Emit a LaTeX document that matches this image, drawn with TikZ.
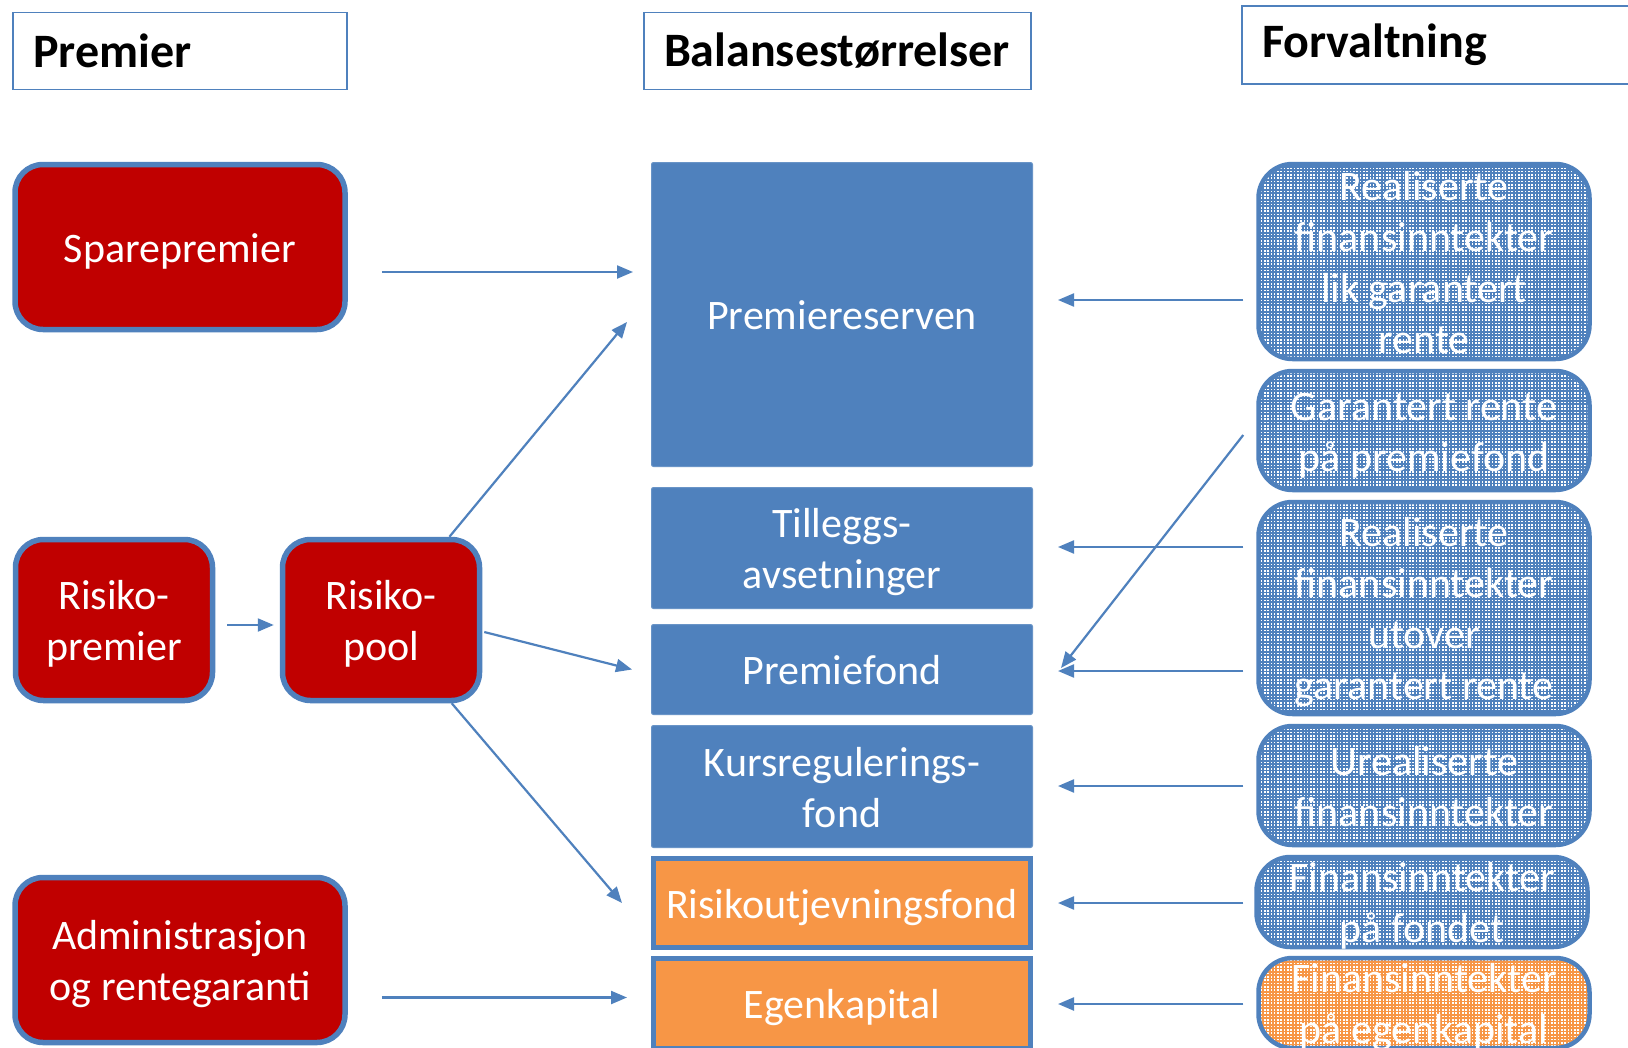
\documentclass[tikz,border=0pt]{standalone}
\usepackage{fontspec}
\setmainfont{Carlito}
\usetikzlibrary{arrows.meta,calc,patterns}
\definecolor{darkred}{HTML}{C00000}
\definecolor{boxblue}{HTML}{4F81BD}
\definecolor{fondorange}{HTML}{F79646}
\pgfdeclarepatternformonly{finedots}{\pgfpoint{-1pt}{-1pt}}{\pgfpoint{3pt}{3pt}}{\pgfpoint{3.3pt}{3.3pt}}%
  {\pgfpathrectangle{\pgfpointorigin}{\pgfpoint{1.6pt}{1.6pt}}\pgfusepath{fill}}
\newcommand\boxfont{\fontsize{42}{51}\selectfont}
\newcommand\titlefont{\fontsize{48}{56}\selectfont\bfseries}
\tikzset{head/.style={draw=boxblue,line width=1.5pt,inner xsep=20pt,inner ysep=0pt,
  minimum height=77pt,align=flush left,font=\titlefont},
  struts/.style={execute at begin node={\rule{0pt}{41pt}},
  execute at end node={\rule[-10.5pt]{0pt}{0pt}}},
  redbox/.style={draw=boxblue,fill=darkred,line width=5.5pt,rounded corners=28pt,
  minimum width=#1,text width=#1,inner sep=0pt,text=white,align=flush center,
  font=\boxfont,struts},
  balbox/.style={draw=boxblue!85!white,fill=boxblue,line width=1pt,rounded corners=2pt,
  minimum width=381pt,text width=381pt,inner sep=0pt,text=white,align=flush center,
  font=\boxfont,struts},
  orbox/.style={draw=boxblue,fill=fondorange,line width=5pt,minimum width=377pt,
  text width=377pt,inner sep=0pt,text=white,align=flush center,font=\boxfont,struts},
  forv/.style={draw=boxblue,line width=4.5pt,rounded corners=34pt,pattern=finedots,
  pattern color=white,text=white,inner xsep=0pt,inner ysep=-14pt,minimum width=331pt,
  text width=331pt,align=flush center,font=\boxfont,struts},
  forvblue/.style={forv,preaction={fill=boxblue}},
  forvorange/.style={forv,preaction={fill=fondorange}},
  arr/.style={-{Triangle[length=16pt,width=13pt]},line width=2.2pt,draw=boxblue},
  back/.style={arr,shorten <=13pt,shorten >=25pt}}
\begin{document}
\begin{tikzpicture}[x=1pt,y=-1pt]
\path[use as bounding box,fill=white] (0,0) rectangle (1628,1047);
\node[head,text width=294pt] (hprem) at (180,51) {Premier};
\node[head,text width=347pt] (hbal) at (837.5,51) {Balansestørrelser};
\node[head,text width=358pt,minimum height=78pt] (hforv) at (1441,45) {Forvaltning};
\node[redbox=330pt,minimum height=165pt] (spare) at (180,247) {Sparepremier};
\node[redbox=197pt,minimum height=161pt] (rprem) at (114,620) {Risiko-\\premier};
\node[redbox=197pt,minimum height=161pt] (rpool) at (381,620) {Risiko-\\pool};
\node[redbox=330pt,minimum height=165pt] (admin) at (180,960) {Administrasjon\\og rentegaranti};
\node[balbox,minimum height=304pt] (pres) at (842,314.5) {Premiereserven};
\node[balbox,minimum height=121pt] (till) at (842,548) {Tilleggs-\\avsetninger};
\node[balbox,minimum height=90pt] (pfond) at (842,669.5) {Premiefond};
\node[balbox,minimum height=122pt] (kurs) at (842,786.5) {Kursregulerings-\\fond};
\node[orbox,minimum height=89pt] (rfond) at (842,903) {Risikoutjevningsfond};
\node[orbox,minimum height=90pt] (egen) at (842,1003.5) {Egenkapital};
\node[forvblue,minimum height=195pt] (rlik) at (1424,261.5) {Realiserte\\finansinntekter\\lik garantert\\rente};
\node[forvblue,minimum height=119pt] (grente) at (1424,430.5) {Garantert rente\\på premiefond};
\node[forvblue,minimum height=212pt] (rutov) at (1424,608) {Realiserte\\finansinntekter\\utover\\garantert rente};
\node[forvblue,minimum height=119pt] (ureal) at (1424,785.5) {Urealiserte\\finansinntekter};
\node[forvblue,minimum height=90pt] (ffond) at (1422,902) {Finansinntekter\\på fondet};
\node[forvorange,minimum height=90pt] (fegen) at (1424,1003) {Finansinntekter\\på egenkapital};
\draw[arr,shorten <=34pt,shorten >=18pt] (spare.east |- 0,272) -- (pres.west |- 0,272);
\draw[arr,shorten <=12pt,shorten >=6pt] (rprem.east |- 0,625) -- (rpool.west |- 0,625);
\draw[arr] (rpool) -- ($(pres.west |- 0,322)+(-24,0)$);
\draw[arr] ($(rpool.east)+(2,12)$) -- ($(pfond.west)+(-19,0)$);
\draw[arr] (rpool) -- ($(rfond.west)+(-29,0)$);
\draw[arr,shorten <=34pt,shorten >=24pt] (admin.east |- 0,997.5) -- (egen.west |- 0,997.5);
\draw[back] (rlik.west |- 0,300) -- (pres.east |- 0,300);
\draw[back] (rutov.west |- 0,547) -- (till.east |- 0,547);
\draw[back] (rutov.west |- 0,671) -- (pfond.east |- 0,671);
\draw[arr] ($(grente.west)+(-13,4.5)$) -- ($(pfond.east)+(28,-1.5)$);
\draw[back] (ureal.west |- 0,786) -- (kurs.east |- 0,786);
\draw[back,shorten <=11pt] (ffond.west |- 0,903) -- (rfond.east |- 0,903);
\draw[back] (fegen.west |- 0,1004) -- (egen.east |- 0,1004);
\end{tikzpicture}
\end{document}
